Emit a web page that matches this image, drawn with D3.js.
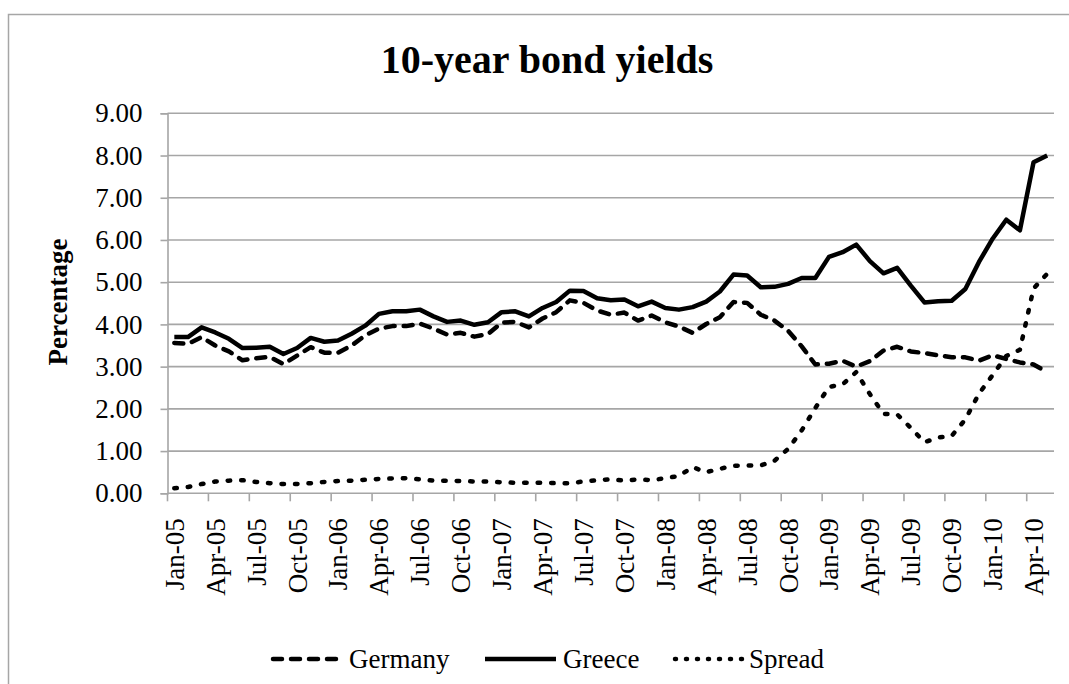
<!DOCTYPE html>
<html><head><meta charset="utf-8">
<script src="https://cdn.jsdelivr.net/npm/d3@7/dist/d3.min.js"></script>
<style>
html,body{margin:0;padding:0;background:#fff;}
svg{display:block;}
</style></head>
<body>
<svg id="chart" width="1069" height="684"></svg>
<script>
const title = "10-year bond yields";
const yTitle = "Percentage";
const categories = [
"Jan-05","Feb-05","Mar-05","Apr-05","May-05","Jun-05","Jul-05","Aug-05","Sep-05","Oct-05","Nov-05","Dec-05",
"Jan-06","Feb-06","Mar-06","Apr-06","May-06","Jun-06","Jul-06","Aug-06","Sep-06","Oct-06","Nov-06","Dec-06",
"Jan-07","Feb-07","Mar-07","Apr-07","May-07","Jun-07","Jul-07","Aug-07","Sep-07","Oct-07","Nov-07","Dec-07",
"Jan-08","Feb-08","Mar-08","Apr-08","May-08","Jun-08","Jul-08","Aug-08","Sep-08","Oct-08","Nov-08","Dec-08",
"Jan-09","Feb-09","Mar-09","Apr-09","May-09","Jun-09","Jul-09","Aug-09","Sep-09","Oct-09","Nov-09","Dec-09",
"Jan-10","Feb-10","Mar-10","Apr-10","May-10"];
const germany = [
3.56,3.54,3.70,3.50,3.36,3.15,3.20,3.23,3.06,3.26,3.46,3.33,
3.33,3.50,3.74,3.90,3.96,3.96,4.02,3.90,3.76,3.80,3.71,3.77,
4.04,4.06,3.93,4.14,4.29,4.57,4.51,4.33,4.23,4.28,4.09,4.21,
4.05,3.95,3.80,4.01,4.17,4.53,4.51,4.23,4.09,3.85,3.48,3.05,
3.07,3.14,3.00,3.13,3.38,3.47,3.36,3.32,3.27,3.22,3.22,3.14,
3.27,3.18,3.10,3.05,2.87];
const greece = [
3.70,3.70,3.93,3.81,3.66,3.44,3.45,3.47,3.30,3.44,3.68,3.59,
3.62,3.78,3.97,4.25,4.31,4.31,4.35,4.19,4.06,4.09,3.99,4.05,
4.29,4.31,4.19,4.39,4.53,4.80,4.79,4.62,4.57,4.59,4.43,4.54,
4.39,4.35,4.41,4.54,4.78,5.18,5.16,4.88,4.89,4.96,5.10,5.10,
5.60,5.71,5.89,5.50,5.21,5.34,4.92,4.52,4.55,4.56,4.84,5.48,
6.03,6.48,6.23,7.84,8.00];
const spread = [
0.12,0.15,0.22,0.28,0.30,0.31,0.27,0.24,0.22,0.22,0.24,0.27,
0.29,0.30,0.32,0.34,0.35,0.36,0.33,0.30,0.30,0.29,0.28,0.28,
0.26,0.25,0.25,0.25,0.24,0.24,0.28,0.31,0.33,0.30,0.33,0.31,
0.36,0.41,0.62,0.50,0.58,0.65,0.66,0.66,0.77,1.05,1.49,2.02,
2.52,2.58,2.87,2.35,1.88,1.87,1.55,1.21,1.32,1.36,1.75,2.36,
2.80,3.25,3.40,4.85,5.20];
const yTicks = [0,1,2,3,4,5,6,7,8,9];
const seriesNames = ["Germany","Greece","Spread"];

const svg = d3.select("#chart");
const mLeft = 167.5, mRight = 1054, mTop = 113.3, mBottom = 493.3;
const serif = "'Liberation Serif', 'Times New Roman', serif";
const gridColor = "#a6a6a6";

// chart border
svg.append("rect").attr("x",8.5).attr("y",14.5).attr("width",1100).attr("height",700)
  .attr("fill","none").attr("stroke","#a6a6a6").attr("stroke-width",1.5);

const x = d3.scaleBand().domain(categories).range([mLeft, mRight]).paddingInner(0).paddingOuter(0);
const y = d3.scaleLinear().domain([0,9]).range([mBottom, mTop]);
const cx = d => x(d) + x.bandwidth()/2;

// gridlines
svg.append("g").selectAll("line").data(yTicks.filter(v=>v>0)).join("line")
  .attr("x1", mLeft).attr("x2", mRight).attr("y1", d=>y(d)).attr("y2", d=>y(d))
  .attr("stroke", gridColor).attr("stroke-width", 1.6);

// y axis
const yAxis = svg.append("g").attr("transform",`translate(${mLeft},0)`)
  .call(d3.axisLeft(y).tickValues(yTicks).tickFormat(d3.format(".2f")).tickSize(7).tickPadding(18));
yAxis.select(".domain").attr("stroke", gridColor).attr("stroke-width",1.6);
yAxis.selectAll(".tick line").attr("stroke", gridColor).attr("stroke-width",1.6);
yAxis.selectAll("text").attr("font-family", serif).attr("font-size", 27).attr("fill","#000");

// x axis
const xAxis = svg.append("g").attr("transform",`translate(0,${mBottom})`)
  .call(d3.axisBottom(x).tickValues(categories.filter((d,i)=>i%3===0)).tickSize(0).tickPadding(0));
xAxis.select(".domain").attr("d", `M${mLeft},0H${mRight}`).attr("stroke", gridColor).attr("stroke-width",1.6);
xAxis.selectAll("text")
  .attr("font-family", serif).attr("font-size", 27).attr("fill","#000")
  .attr("text-anchor","end").attr("dy","0.35em")
  .attr("transform","translate(0,25) rotate(-90)").attr("x",0).attr("y",0);
// boundary tick marks
svg.append("g").selectAll("line").data(categories.filter((d,i)=>i%3===0)).join("line")
  .attr("x1", d=>x(d)).attr("x2", d=>x(d)).attr("y1", mBottom).attr("y2", mBottom+8)
  .attr("stroke", gridColor).attr("stroke-width",1.6);

// title
svg.append("text").attr("x",547).attr("y",73).attr("text-anchor","middle")
  .attr("font-family", serif).attr("font-weight","bold").attr("font-size",40).text(title);
// y title
svg.append("text").attr("transform","translate(67,302) rotate(-90)").attr("text-anchor","middle")
  .attr("font-family", serif).attr("font-weight","bold").attr("font-size",27).text(yTitle);

const styles = {
  Germany: {dash:"9 9", cap:"round"},
  Greece: {dash:null, cap:"butt"},
  Spread: {dash:"2.5 11", cap:"round"}
};
const data = {Germany: germany, Greece: greece, Spread: spread};
const line = d3.line().x((d,i)=>cx(categories[i])).y(d=>y(d));

["Spread","Germany","Greece"].forEach(name=>{
  svg.append("path").datum(data[name]).attr("d", line)
    .attr("fill","none").attr("stroke","#000").attr("stroke-width",4.5)
    .attr("stroke-linejoin","round").attr("stroke-linecap", styles[name].cap)
    .attr("stroke-dasharray", styles[name].dash);
});

// legend
const legendY = 659;
const legendItems = [
  {name:"Germany", x1:273, x2:342, tx:349},
  {name:"Greece", x1:485, x2:556, tx:563},
  {name:"Spread", x1:675, x2:742, tx:749}
];
const lg = svg.append("g");
legendItems.forEach(it=>{
  lg.append("line").attr("x1",it.x1).attr("x2",it.x2).attr("y1",legendY).attr("y2",legendY)
    .attr("stroke","#000").attr("stroke-width",4.5)
    .attr("stroke-linecap", styles[it.name].cap)
    .attr("stroke-dasharray", it.name==="Spread" ? "1 10" : styles[it.name].dash);
  lg.append("text").attr("x",it.tx).attr("y",legendY).attr("dy","0.35em")
    .attr("font-family", serif).attr("font-size",27).text(it.name);
});
</script>
</body></html>
